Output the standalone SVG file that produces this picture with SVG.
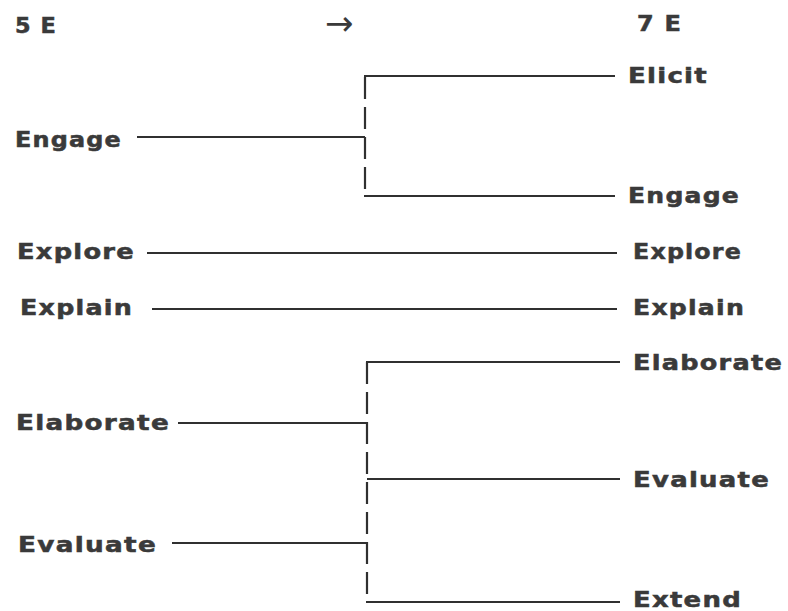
<svg xmlns="http://www.w3.org/2000/svg" width="788" height="611" viewBox="0 0 788 611">
  <style>
    .lbl { font-family: "DejaVu Sans", "Open Sans", sans-serif; font-weight: 700; font-size: 20.5px; letter-spacing: 1px; fill: #3a3a3a; stroke: #3a3a3a; stroke-width: 0.5px; }
    .head { font-family: "DejaVu Sans", "Open Sans", sans-serif; font-weight: 700; font-size: 20.5px; letter-spacing: 1px; fill: #3a3a3a; stroke: #3a3a3a; stroke-width: 0.5px; }
    .wire { fill: none; stroke: #303030; stroke-width: 2; }
    .dash { fill: none; stroke: #303030; stroke-width: 2.2; stroke-dasharray: 22 8; }
  </style>
  <rect width="788" height="611" fill="#ffffff"/>

  <!-- column headings -->
  <g id="head-5e"><text class="head" x="15" y="33" textLength="42" lengthAdjust="spacingAndGlyphs">5 E</text></g>
  <g id="head-arrow"><text x="325" y="35" font-family="DejaVu Sans, sans-serif" font-size="34" fill="#3a3a3a">→</text></g>
  <g id="head-7e"><text class="head" x="637" y="31" textLength="45" lengthAdjust="spacingAndGlyphs">7 E</text></g>

  <!-- 5E phases (left) -->
  <g id="l-engage"><text class="lbl" x="15" y="147" textLength="107" lengthAdjust="spacingAndGlyphs">Engage</text></g>
  <g id="l-explore"><text class="lbl" x="17" y="259" textLength="118" lengthAdjust="spacingAndGlyphs">Explore</text></g>
  <g id="l-explain"><text class="lbl" x="20" y="315" textLength="113" lengthAdjust="spacingAndGlyphs">Explain</text></g>
  <g id="l-elaborate"><text class="lbl" x="16" y="430" textLength="154" lengthAdjust="spacingAndGlyphs">Elaborate</text></g>
  <g id="l-evaluate"><text class="lbl" x="18" y="552" textLength="139" lengthAdjust="spacingAndGlyphs">Evaluate</text></g>

  <!-- 7E phases (right) -->
  <g id="r-elicit"><text class="lbl" x="628" y="83" textLength="80" lengthAdjust="spacingAndGlyphs">Elicit</text></g>
  <g id="r-engage"><text class="lbl" x="628" y="203" textLength="112" lengthAdjust="spacingAndGlyphs">Engage</text></g>
  <g id="r-explore"><text class="lbl" x="633" y="259" textLength="109" lengthAdjust="spacingAndGlyphs">Explore</text></g>
  <g id="r-explain"><text class="lbl" x="633" y="315" textLength="112" lengthAdjust="spacingAndGlyphs">Explain</text></g>
  <g id="r-elaborate"><text class="lbl" x="633" y="370" textLength="150" lengthAdjust="spacingAndGlyphs">Elaborate</text></g>
  <g id="r-evaluate"><text class="lbl" x="633" y="487" textLength="137" lengthAdjust="spacingAndGlyphs">Evaluate</text></g>
  <g id="r-extend"><text class="lbl" x="633" y="607" textLength="109" lengthAdjust="spacingAndGlyphs">Extend</text></g>

  <!-- connectors -->
  <g id="connectors">
    <!-- Engage splits into Elicit + Engage -->
    <line class="wire" x1="137" y1="137" x2="365" y2="137"/>
    <line class="dash" x1="365" y1="77" x2="365" y2="196"/>
    <line class="wire" x1="364" y1="76" x2="615" y2="76"/>
    <line class="wire" x1="364" y1="196" x2="615" y2="196"/>
    <!-- straight carry-overs -->
    <line class="wire" x1="147" y1="253" x2="617" y2="253"/>
    <line class="wire" x1="152" y1="309" x2="617" y2="309"/>
    <!-- Elaborate + Evaluate regroup into Elaborate, Evaluate, Extend -->
    <line class="wire" x1="178" y1="423" x2="367" y2="423"/>
    <line class="wire" x1="172" y1="543" x2="367" y2="543"/>
    <line class="dash" x1="367" y1="362" x2="367" y2="602"/>
    <line class="wire" x1="366" y1="362" x2="620" y2="362"/>
    <line class="wire" x1="367" y1="479" x2="620" y2="479"/>
    <line class="wire" x1="366" y1="602" x2="620" y2="602"/>
  </g>
</svg>
